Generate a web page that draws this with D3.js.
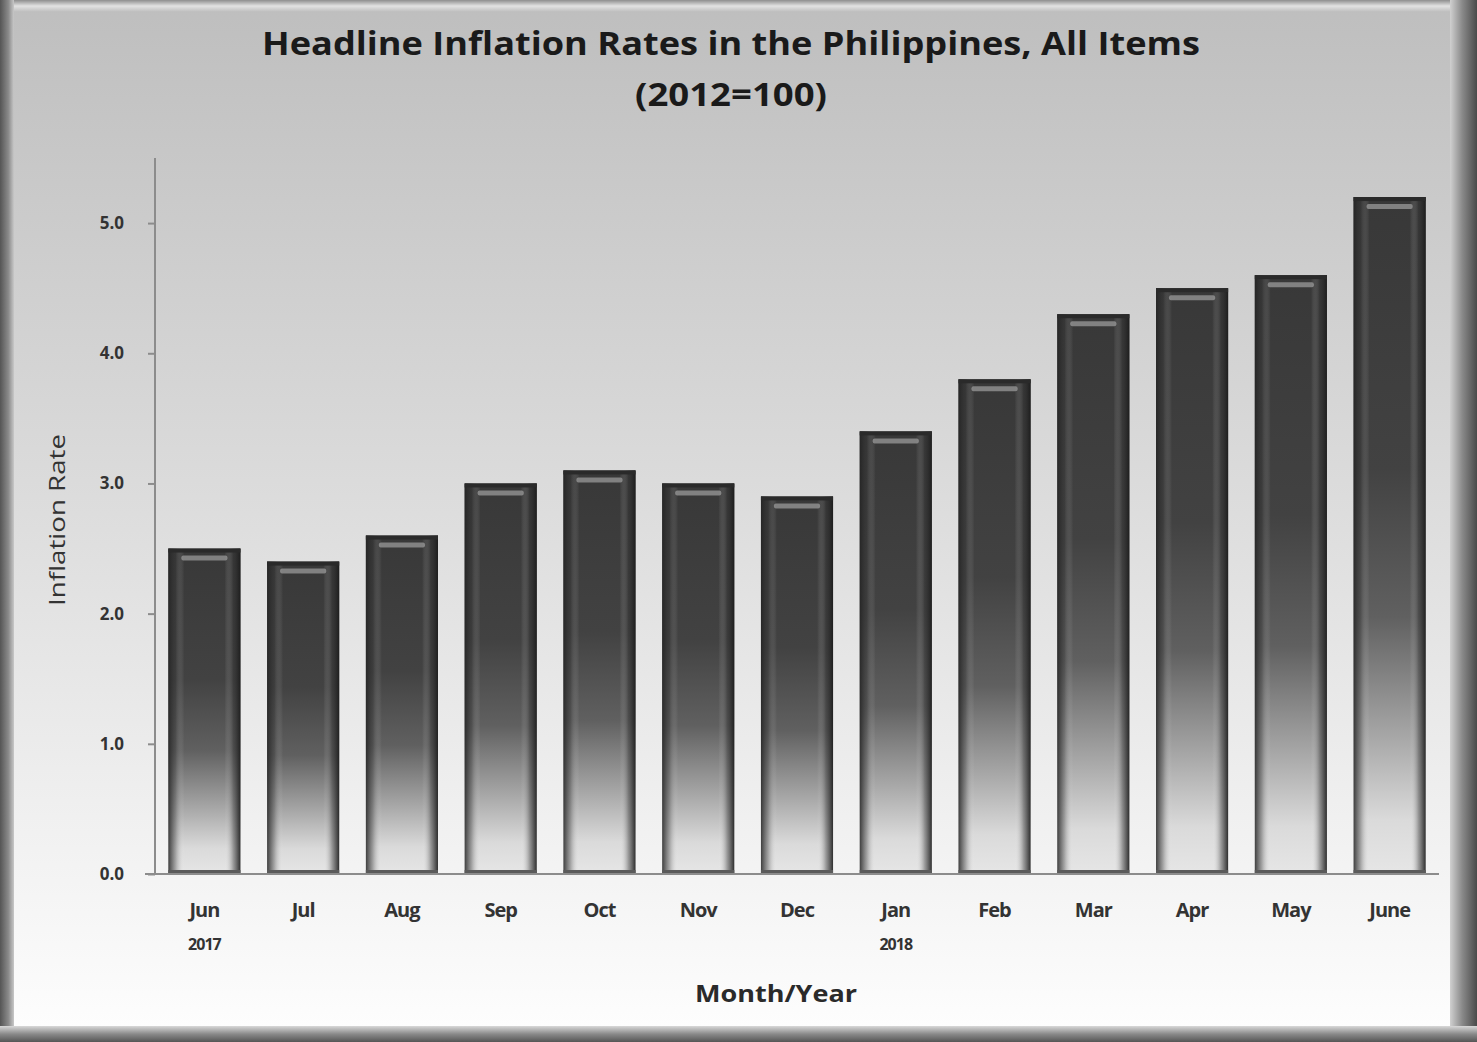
<!DOCTYPE html>
<html>
<head>
<meta charset="utf-8">
<script src="https://cdn.jsdelivr.net/npm/d3@7"></script>
<style>
  html, body { margin: 0; padding: 0; background: #ffffff; }
  svg { display: block; }
</style>
</head>
<body>
<div id="chart"></div>
<script>
// ---- Data ----
const months = ["Jun", "Jul", "Aug", "Sep", "Oct", "Nov", "Dec", "Jan", "Feb", "Mar", "Apr", "May", "June"];
const years = ["2017", "", "", "", "", "", "", "2018", "", "", "", "", ""];
const rates = [2.5, 2.4, 2.6, 3.0, 3.1, 3.0, 2.9, 3.4, 3.8, 4.3, 4.5, 4.6, 5.2];
const yTicks = [0, 1, 2, 3, 4, 5];
const titleText = "Headline Inflation Rates in the Philippines, All Items";
const subtitleText = "(2012=100)";
const xTitle = "Month/Year";
const yTitle = "Inflation Rate";

const W = 1477, H = 1042;
const svg = d3.select("#chart").append("svg").attr("width", W).attr("height", H);
const defs = svg.append("defs");

// background gradient
const bg = defs.append("linearGradient").attr("id", "bg").attr("x1", 0).attr("y1", 0).attr("x2", 0).attr("y2", 1);
bg.append("stop").attr("offset", "0%").attr("stop-color", "#bebebe");
bg.append("stop").attr("offset", "40%").attr("stop-color", "#d7d7d7");
bg.append("stop").attr("offset", "80%").attr("stop-color", "#f1f1f1");
bg.append("stop").attr("offset", "100%").attr("stop-color", "#fefefe");

// frame edges
const edgeV = defs.append("linearGradient").attr("id", "edgeL").attr("x1", 0).attr("y1", 0).attr("x2", 1).attr("y2", 0);
edgeV.append("stop").attr("offset", "0%").attr("stop-color", "#555");
edgeV.append("stop").attr("offset", "60%").attr("stop-color", "#8a8a8a");
edgeV.append("stop").attr("offset", "100%").attr("stop-color", "#c8c8c8");
const edgeR = defs.append("linearGradient").attr("id", "edgeR").attr("x1", 0).attr("y1", 0).attr("x2", 1).attr("y2", 0);
edgeR.append("stop").attr("offset", "0%").attr("stop-color", "#d0d0d0");
edgeR.append("stop").attr("offset", "45%").attr("stop-color", "#8a8a8a");
edgeR.append("stop").attr("offset", "100%").attr("stop-color", "#4a4a4a");
const edgeB = defs.append("linearGradient").attr("id", "edgeB").attr("x1", 0).attr("y1", 0).attr("x2", 0).attr("y2", 1);
edgeB.append("stop").attr("offset", "0%").attr("stop-color", "#d8d8d8");
edgeB.append("stop").attr("offset", "50%").attr("stop-color", "#8a8a8a");
edgeB.append("stop").attr("offset", "100%").attr("stop-color", "#555");
const edgeT = defs.append("linearGradient").attr("id", "edgeT").attr("x1", 0).attr("y1", 0).attr("x2", 0).attr("y2", 1);
edgeT.append("stop").attr("offset", "0%").attr("stop-color", "#8e8e8e");
edgeT.append("stop").attr("offset", "50%").attr("stop-color", "#e2e2e2");
edgeT.append("stop").attr("offset", "100%").attr("stop-color", "#bdbdbd");

// bar vertical gradient
const barG = defs.append("linearGradient").attr("id", "barG").attr("x1", 0).attr("y1", 0).attr("x2", 0).attr("y2", 1);
barG.append("stop").attr("offset", "0%").attr("stop-color", "#383838");
barG.append("stop").attr("offset", "40%").attr("stop-color", "#424242");
barG.append("stop").attr("offset", "62%").attr("stop-color", "#606060");
barG.append("stop").attr("offset", "80%").attr("stop-color", "#a8a8a8");
barG.append("stop").attr("offset", "92%").attr("stop-color", "#dadada");
barG.append("stop").attr("offset", "100%").attr("stop-color", "#e6e6e6");

// bar horizontal edge shading
const barE = defs.append("linearGradient").attr("id", "barE").attr("x1", 0).attr("y1", 0).attr("x2", 1).attr("y2", 0);
barE.append("stop").attr("offset", "0%").attr("stop-color", "#222").attr("stop-opacity", 0.85);
barE.append("stop").attr("offset", "10%").attr("stop-color", "#333").attr("stop-opacity", 0.35);
barE.append("stop").attr("offset", "22%").attr("stop-color", "#fff").attr("stop-opacity", 0.0);
barE.append("stop").attr("offset", "78%").attr("stop-color", "#fff").attr("stop-opacity", 0.0);
barE.append("stop").attr("offset", "90%").attr("stop-color", "#333").attr("stop-opacity", 0.4);
barE.append("stop").attr("offset", "100%").attr("stop-color", "#1a1a1a").attr("stop-opacity", 0.9);

// background + frame
svg.append("rect").attr("x", 0).attr("y", 0).attr("width", W).attr("height", H).attr("fill", "url(#bg)");
svg.append("rect").attr("x", 0).attr("y", 0).attr("width", W).attr("height", 12).attr("fill", "url(#edgeT)");
svg.append("rect").attr("x", 0).attr("y", 0).attr("width", 14).attr("height", H).attr("fill", "url(#edgeL)");
svg.append("rect").attr("x", 1450).attr("y", 0).attr("width", 27).attr("height", H).attr("fill", "url(#edgeR)");
svg.append("rect").attr("x", 0).attr("y", 1026).attr("width", W).attr("height", 16).attr("fill", "url(#edgeB)");

// scales
const margin = { left: 155, right: 1439, top: 158, bottom: 874 };
const x = d3.scaleBand().domain(months).range([margin.left, margin.right]).paddingInner(0.27).paddingOuter(0.135);
const y = d3.scaleLinear().domain([0, 5.5]).range([margin.bottom, margin.top]);

// bars
const g = svg.append("g");
const bars = g.selectAll("g.bar").data(rates).join("g").attr("class", "bar");
bars.append("rect")
  .attr("x", (d, i) => x(months[i]))
  .attr("y", d => y(d))
  .attr("width", x.bandwidth())
  .attr("height", d => y(0) - y(d))
  .attr("fill", "url(#barG)");
bars.append("rect")
  .attr("x", (d, i) => x(months[i]))
  .attr("y", d => y(d))
  .attr("width", x.bandwidth())
  .attr("height", d => y(0) - y(d))
  .attr("fill", "url(#barE)");
bars.append("rect")
  .attr("x", (d, i) => x(months[i]))
  .attr("y", d => y(d))
  .attr("width", x.bandwidth())
  .attr("height", 4)
  .attr("fill", "#2a2a2a");
bars.append("rect")
  .attr("x", (d, i) => x(months[i]) + x.bandwidth() * 0.18)
  .attr("y", d => y(d) + 7)
  .attr("width", x.bandwidth() * 0.64)
  .attr("height", 5)
  .attr("rx", 2)
  .attr("fill", "#9a9a9a")
  .attr("opacity", 0.75);
bars.append("rect")
  .attr("x", (d, i) => x(months[i]))
  .attr("y", y(0) - 4)
  .attr("width", x.bandwidth())
  .attr("height", 4)
  .attr("fill", "#5a5a5a");

// y axis
const yAxis = d3.axisLeft(y).tickValues(yTicks).tickFormat(d3.format(".1f")).tickSize(7).tickPadding(24);
const yg = svg.append("g").attr("transform", `translate(${margin.left},0)`).call(yAxis);
yg.select(".domain").attr("stroke", "#8c8c8c").attr("stroke-width", 2).attr("d", `M0,${margin.top}V${margin.bottom}`);
yg.selectAll(".tick line").attr("stroke", "#8c8c8c").attr("stroke-width", 2);
yg.selectAll(".tick text")
  .attr("fill", "#333")
  .style("font-family", "'Open Sans', sans-serif")
  .style("font-weight", "bold")
  .style("font-size", "17px");

// x axis
const xAxis = d3.axisBottom(x).tickSize(0).tickPadding(29);
const xg = svg.append("g").attr("transform", `translate(0,${margin.bottom})`).call(xAxis);
xg.select(".domain").attr("stroke", "#8c8c8c").attr("stroke-width", 2).attr("d", `M${margin.left - 10},0H${margin.right}`);
xg.selectAll(".tick text")
  .attr("fill", "#333")
  .style("font-family", "'Open Sans', sans-serif")
  .style("font-weight", "bold")
  .style("font-size", "20px")
  .style("letter-spacing", "-1px");
xg.selectAll(".tick").each(function(d, i) {
  if (years[i]) {
    d3.select(this).append("text")
      .attr("x", 0).attr("y", 76)
      .attr("text-anchor", "middle")
      .attr("fill", "#333")
      .style("font-family", "'Open Sans', sans-serif")
      .style("font-weight", "bold")
      .style("font-size", "16px")
      .style("letter-spacing", "-1px")
      .text(years[i]);
  }
});

// titles
svg.append("text")
  .attr("x", 731).attr("y", 55)
  .attr("text-anchor", "middle")
  .attr("fill", "#1a1a1a")
  .style("font-family", "'Open Sans', sans-serif")
  .style("font-weight", "bold")
  .style("font-size", "32px")
  .attr("textLength", 938).attr("lengthAdjust", "spacingAndGlyphs")
  .text(titleText);
svg.append("text")
  .attr("x", 731).attr("y", 106)
  .attr("text-anchor", "middle")
  .attr("fill", "#1a1a1a")
  .style("font-family", "'Open Sans', sans-serif")
  .style("font-weight", "bold")
  .style("font-size", "32px")
  .attr("textLength", 192).attr("lengthAdjust", "spacingAndGlyphs")
  .text(subtitleText);

svg.append("text")
  .attr("x", 776).attr("y", 1002)
  .attr("text-anchor", "middle")
  .attr("fill", "#2a2a2a")
  .style("font-family", "'Open Sans', sans-serif")
  .style("font-weight", "bold")
  .style("font-size", "24px")
  .attr("textLength", 162).attr("lengthAdjust", "spacingAndGlyphs")
  .text(xTitle);

svg.append("text")
  .attr("transform", "translate(65,520) rotate(-90)")
  .attr("text-anchor", "middle")
  .attr("fill", "#333")
  .style("font-family", "'Open Sans', sans-serif")
  .style("font-size", "21px")
  .attr("textLength", 172).attr("lengthAdjust", "spacingAndGlyphs")
  .text(yTitle);
</script>
</body>
</html>
